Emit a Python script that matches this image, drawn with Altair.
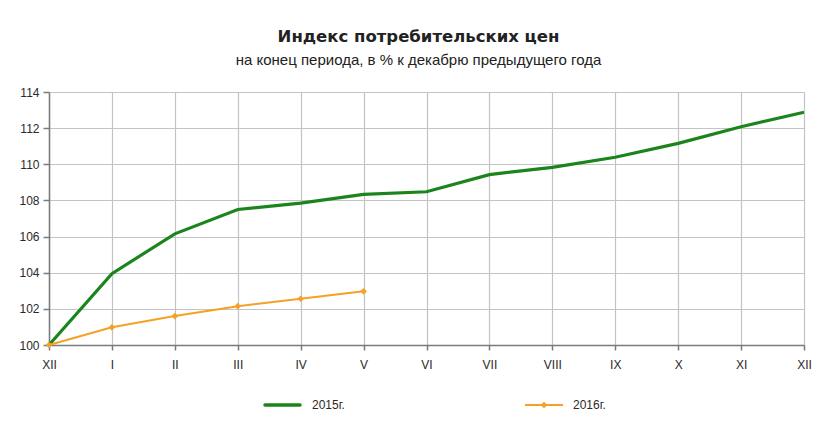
import altair as alt
import pandas as pd

month_labels = ["XII", "I", "II", "III", "IV", "V", "VI", "VII", "VIII", "IX", "X", "XI", "XII"]
cpi_2015 = [100.0, 103.95, 106.15, 107.5, 107.85, 108.33, 108.48, 109.43, 109.83, 110.39, 111.16, 112.08, 112.88]
cpi_2016 = [100.0, 100.98, 101.6, 102.15, 102.56, 102.97]
series_names = ["2015г.", "2016г."]

GREEN = "#1b851b"
ORANGE = "#f4a126"
FONT = "Liberation Sans"

df15 = pd.DataFrame({"idx": list(range(len(cpi_2015))), "value": cpi_2015, "series": series_names[0]})
df16 = pd.DataFrame({"idx": list(range(len(cpi_2016))), "value": cpi_2016, "series": series_names[1]})

label_expr = "[" + ",".join("'" + m + "'" for m in month_labels) + "][datum.value]"

x_enc = alt.X(
    "idx:Q",
    scale=alt.Scale(domain=[0, len(month_labels) - 1], nice=False, zero=False),
    axis=alt.Axis(
        values=list(range(len(month_labels))),
        labelExpr=label_expr,
        title=None,
        grid=True,
        gridColor="#c4c4c4",
        gridWidth=1.2,
        domainColor="#7a7a7a",
        domainWidth=1.5,
        tickColor="#7a7a7a",
        tickSize=5,
        tickWidth=1.5,
        labelPadding=9,
        labelFont=FONT,
        labelFontSize=12,
        labelColor="#2a2a2a",
        labelFlush=False,
    ),
)
y_enc = alt.Y(
    "value:Q",
    scale=alt.Scale(domain=[100, 114], nice=False, zero=False),
    axis=alt.Axis(
        values=list(range(100, 115, 2)),
        title=None,
        grid=True,
        gridColor="#c4c4c4",
        gridWidth=1.2,
        domainColor="#7a7a7a",
        domainWidth=1.5,
        tickColor="#7a7a7a",
        tickSize=6,
        tickWidth=1.5,
        labelPadding=4,
        labelFont=FONT,
        labelFontSize=12,
        labelColor="#2a2a2a",
    ),
)

line15 = alt.Chart(df15).mark_line(color=GREEN, strokeWidth=3.2).encode(x=x_enc, y=y_enc)
line16 = alt.Chart(df16).mark_line(
    color=ORANGE, strokeWidth=2,
    point=alt.OverlayMarkDef(shape="diamond", size=45, filled=True, color=ORANGE),
).encode(x=x_enc, y=y_enc)

leg_df = pd.DataFrame({"series": series_names})
leg15 = alt.Chart(leg_df).transform_filter(alt.datum.series == series_names[0])
leg16 = alt.Chart(leg_df).transform_filter(alt.datum.series == series_names[1])
LY = 313
legend_layers = [
    leg15.mark_rule(color=GREEN, strokeWidth=3.5, strokeCap="round").encode(
        x=alt.value(216), x2=alt.value(251), y=alt.value(LY)),
    leg15.mark_text(align="left", baseline="middle", font=FONT, fontSize=12, color="#2a2a2a").encode(
        x=alt.value(263), y=alt.value(LY), text="series:N"),
    leg16.mark_rule(color=ORANGE, strokeWidth=2).encode(
        x=alt.value(476), x2=alt.value(514), y=alt.value(LY)),
    leg16.mark_point(shape="diamond", size=45, filled=True, color=ORANGE, opacity=1).encode(
        x=alt.value(495), y=alt.value(LY)),
    leg16.mark_text(align="left", baseline="middle", font=FONT, fontSize=12, color="#2a2a2a").encode(
        x=alt.value(524), y=alt.value(LY), text="series:N"),
]

chart = alt.layer(line15, line16, *legend_layers).properties(
    width=755,
    height=253,
    autosize=alt.AutoSizeParams(type="none"),
    padding={"left": 41, "top": 84, "right": 10, "bottom": 70},
    title=alt.TitleParams(
        text="Индекс потребительских цен",
        subtitle="на конец периода, в % к декабрю предыдущего года",
        font="DejaVu Sans",
        fontSize=16.5,
        fontWeight="bold",
        color="#222222",
        subtitleFont=FONT,
        subtitleFontSize=15,
        subtitleColor="#222222",
        subtitlePadding=8,
        anchor="middle",
        dx=-8,
        offset=18,
    ),
).configure_view(stroke="#a8a8a8", strokeWidth=1.2).configure(background="white")

chart.save("out.html", embed_options={"renderer": "svg", "actions": False})
